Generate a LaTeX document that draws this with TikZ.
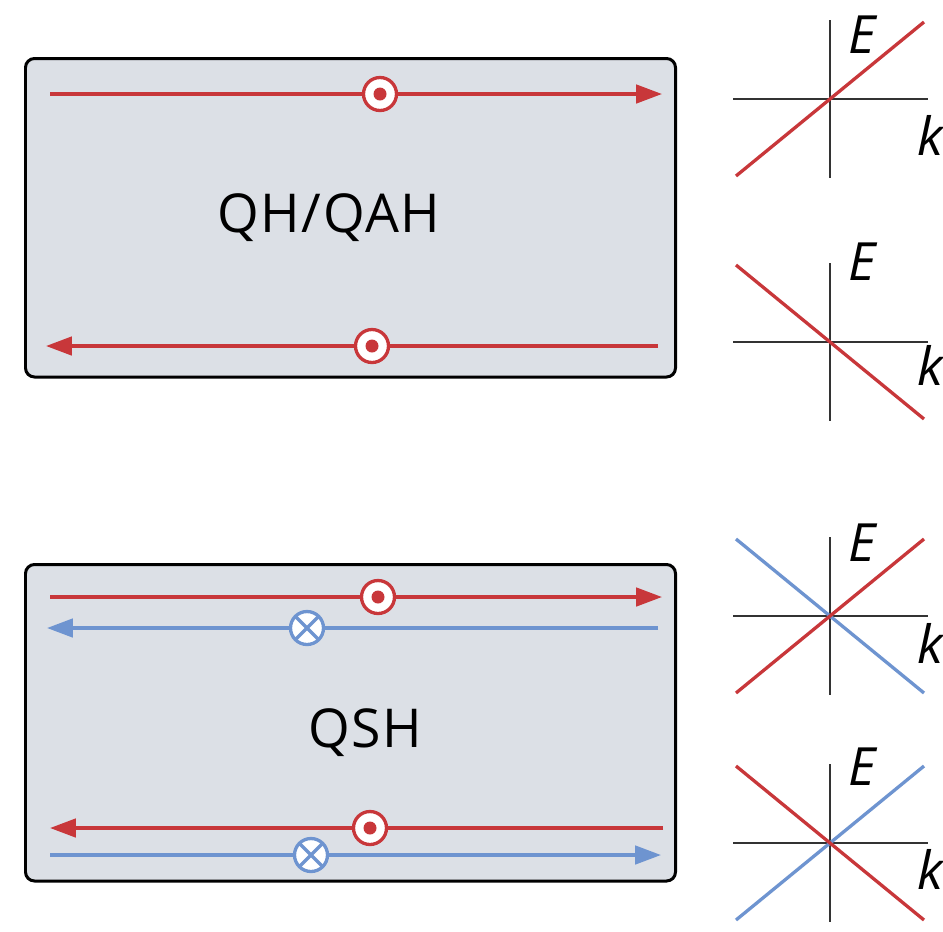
\documentclass[tikz,border=0pt]{standalone}
\usepackage{fontspec}
\setmainfont{Open Sans}
\usetikzlibrary{arrows.meta}
\definecolor{edgered}{RGB}{200,55,58}
\definecolor{edgeblue}{RGB}{110,148,208}
\definecolor{slab}{RGB}{220,224,230}
\tikzset{
  sample/.style={draw=black, fill=slab, line width=0.06cm, rounded corners=0.18cm},
  redline/.style={draw=edgered, line width=0.066cm},
  blueline/.style={draw=edgeblue, line width=0.066cm},
  axisline/.style={draw=black!80, line width=0.04cm},
  flow/.style={-{Triangle[length=0.52cm,width=0.37cm]}},
  spinup/.style={circle, draw=edgered, fill=white, line width=0.066cm, minimum size=0.66cm, inner sep=0pt,
    path picture={\path[fill=edgered] (path picture bounding box.center) circle (0.13cm);}},
  spindown/.style={circle, draw=edgeblue, fill=white, line width=0.066cm, minimum size=0.66cm, inner sep=0pt,
    path picture={\path[draw=edgeblue, line width=0.066cm] (path picture bounding box.north west) -- (path picture bounding box.south east)
      (path picture bounding box.north east) -- (path picture bounding box.south west);}},
  phase/.style={font=\fontsize{30.5}{36}\selectfont\addfontfeatures{LetterSpace=3}, inner sep=0pt, anchor=base},
  axlabel/.style={font=\fontsize{30}{36}\selectfont\itshape, inner sep=0pt}
}
\begin{document}
\begin{tikzpicture}[x=0.02cm, y=-0.02cm]
    \useasboundingbox (0,0) rectangle (943,931);
    \path[sample] (25.5,58.5) rectangle (675.5,377);
    \path[sample] (25.5,564.5) rectangle (675.5,881);
    \node[phase] (qah) at (329,232) {QH/QAH};
    \node[phase] (qsh) at (365,747) {QSH};

    \coordinate (t1) at (50,94);   \coordinate (t2) at (662,94);
    \coordinate (b1) at (658,346); \coordinate (b2) at (46,346);
    \coordinate (u1) at (50,597);  \coordinate (u2) at (662,597);
    \coordinate (v1) at (658,628); \coordinate (v2) at (47,628);
    \coordinate (w1) at (663,828); \coordinate (w2) at (50,828);
    \coordinate (z1) at (50,855);  \coordinate (z2) at (661,855);
    \path[redline, flow] (t1) -- (t2);
    \path[redline, flow] (b1) -- (b2);
    \path[redline, flow] (u1) -- (u2);
    \path[blueline, flow] (v1) -- (v2);
    \path[redline, flow] (w1) -- (w2);
    \path[blueline, flow] (z1) -- (z2);
    \node[spinup] (st) at (380,94) {};
    \node[spinup] (sb) at (372,346) {};
    \node[spinup] (su) at (378,597) {};
    \node[spindown] (sv) at (307,628) {};
    \node[spinup] (sw) at (370,828) {};
    \node[spindown] (sz) at (311,855) {};

    \foreach \g/\oy/\ey/\ky in {1/99/35/135, 2/342/262/365, 3/616/543/643, 4/843/767/869} {
      \coordinate (ll\g) at (736,\oy+77);
      \coordinate (ul\g) at (736,\oy-77);
      \coordinate (ur\g) at (924,\oy-77);
      \coordinate (lr\g) at (924,\oy+77);
      \path[axisline] (733,\oy) -- (928,\oy);
      \path[axisline] (830,\oy-79) -- (830,\oy+79);
      \node[axlabel] (E\g) at (862,\ey) {E};
      \node[axlabel] (k\g) at (930,\ky) {k};
    }
    \path[redline] (ll1) -- (ur1);
    \path[redline] (ul2) -- (lr2);
    \path[blueline] (ul3) -- (lr3);
    \path[redline] (ll3) -- (ur3);
    \path[blueline] (ll4) -- (ur4);
    \path[redline] (ul4) -- (lr4);
\end{tikzpicture}
\end{document}
